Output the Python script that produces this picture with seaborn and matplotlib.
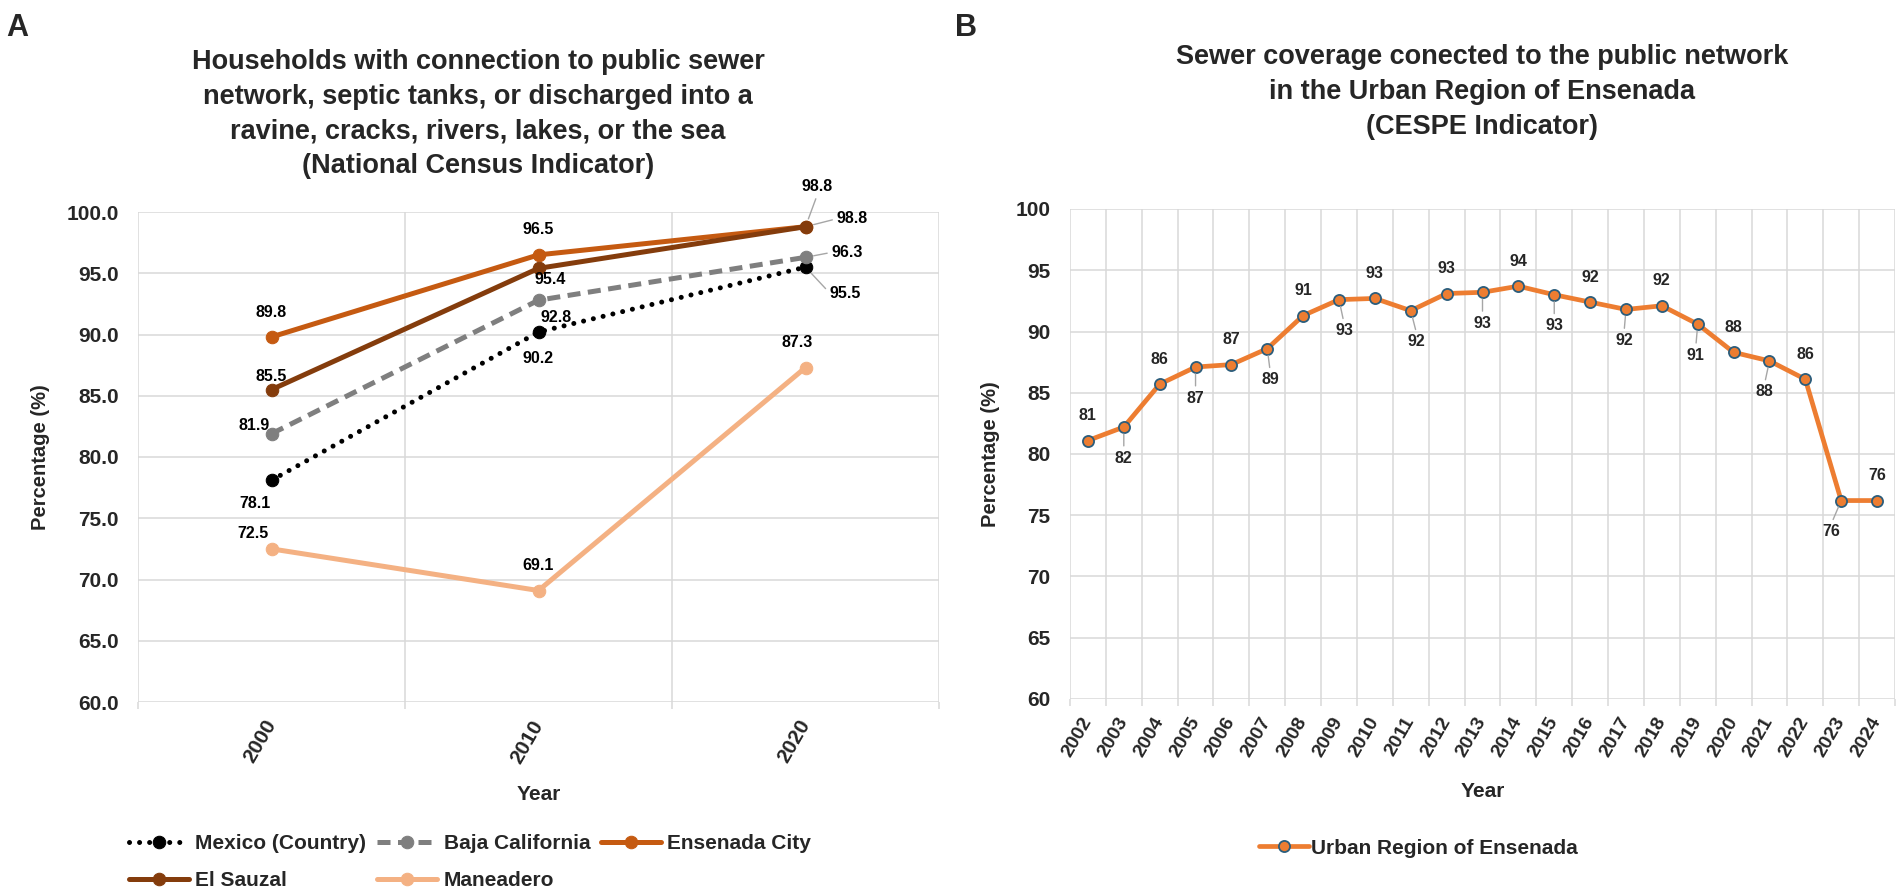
import matplotlib
matplotlib.use("Agg")
import matplotlib.pyplot as plt
import seaborn as sns

# ============================================
# Data
# ============================================
census_years = ["2000", "2010", "2020"]
mexico = [78.1, 90.2, 95.5]
baja_california = [81.9, 92.8, 96.3]
ensenada_city = [89.8, 96.5, 98.8]
el_sauzal = [85.5, 95.4, 98.8]
maneadero = [72.5, 69.1, 87.3]

cespe_years = ["2002", "2003", "2004", "2005", "2006", "2007", "2008", "2009",
               "2010", "2011", "2012", "2013", "2014", "2015", "2016", "2017",
               "2018", "2019", "2020", "2021", "2022", "2023", "2024"]
urban_region = [81.1, 82.2, 85.7, 87.1, 87.3, 88.6, 91.3, 92.6, 92.7, 91.7, 93.1, 93.2,
                93.7, 93.0, 92.4, 91.8, 92.1, 90.6, 88.3, 87.6, 86.1, 76.2, 76.2]

# ============================================
# Style
# ============================================
sns.set_theme(style="white")
plt.rcParams["font.family"] = ["Liberation Sans", "DejaVu Sans"]
plt.rcParams["font.weight"] = "bold"

GRID = "#d9d9d9"
LEADER = "#a6a6a6"

fig = plt.figure(figsize=(19.02, 8.94), dpi=100)
W, H = 1902, 894


def px_axes(x0, x1, y0, y1):
    return fig.add_axes([x0 / W, 1 - y1 / H, (x1 - x0) / W, (y1 - y0) / H])


def style_axes(ax, labels, tick_fs, rot):
    n = len(labels)
    ax.set_xlim(-0.5, n - 0.5)
    ax.set_ylim(60, 100)
    ax.set_yticks(range(60, 101, 5))
    ax.set_xticks(range(n))
    ax.set_xticks([i - 0.5 for i in range(n + 1)], minor=True)
    ax.set_xticklabels(labels, rotation=rot, ha="right", va="center",
                       rotation_mode="anchor", fontsize=tick_fs, fontweight="bold")
    ax.grid(False)
    ax.grid(True, which="minor", axis="x", color=GRID, lw=1.1)
    ax.grid(True, which="major", axis="y", color=GRID, lw=1.1)
    ax.tick_params(axis="x", which="major", length=0, pad=14)
    ax.tick_params(axis="x", which="minor", length=5, color=GRID, width=1.1, bottom=True)
    ax.tick_params(axis="y", length=0, pad=14, labelsize=15)
    for s in ax.spines.values():
        s.set_visible(False)
    ax.set_xlabel("Year", fontsize=15, fontweight="bold")
    ax.set_ylabel("Percentage (%)", fontsize=14.5, fontweight="bold")
    ax.xaxis.set_label_coords(0.5, -0.17)


# ============================================
# Panel A
# ============================================
ax1 = px_axes(138, 939, 212, 702)
xa = list(range(len(census_years)))

series_a = [
    ("Mexico (Country)", mexico, "black", (0, (0.01, 2.0))),
    ("Baja California", baja_california, "#7f7f7f", (0, (2.6, 1.5))),
    ("Ensenada City", ensenada_city, "#c55a11", "-"),
    ("El Sauzal", el_sauzal, "#843c0c", "-"),
    ("Maneadero", maneadero, "#f4b183", "-"),
]

# label offsets in pixels (dx, dy), and leader-line anchor on the label
offsets_a = {
    "Mexico (Country)": [(-16, -23, None), (0, -26, None), (40, -26, (0, 0.5))],
    "Baja California": [(-17, 8, None), (18, -17, None), (42, 5, (0, 0.5))],
    "Ensenada City": [(0, 24, None), (0, 25, None), (12, 40, (0.5, 0))],
    "El Sauzal": [(0, 13, None), (12, -11, None), (47, 8, (0, 0.5))],
    "Maneadero": [(-18, 15, None), (0, 25, None), (-8, 25, None)],
}

lines_a = {}
for name, values, color, ls in series_a:
    sns.lineplot(x=xa, y=values, ax=ax1, color=color, linestyle=ls, lw=3.6,
                 marker="o", markersize=9, markeredgecolor=color,
                 dash_capstyle="round" if name == "Mexico (Country)" else "butt")
    lines_a[name] = ax1.lines[-1]
    for i, v in enumerate(values):
        dx, dy, rel = offsets_a[name][i]
        kw = {}
        if rel is not None:
            kw["arrowprops"] = dict(arrowstyle="-", color=LEADER, lw=1,
                                    shrinkA=1, shrinkB=6, relpos=rel)
        ax1.annotate(f"{v:.1f}", (i, v), xytext=(dx, dy), textcoords="offset pixels",
                     ha="center", va="center", fontsize=11.5, fontweight="bold",
                     color="black", **kw)

style_axes(ax1, census_years, 15, 60)
ax1.set_yticks(range(60, 101, 5))
ax1.set_yticklabels([f"{t:.1f}" for t in range(60, 101, 5)])
ax1.yaxis.set_label_coords(-0.11, 0.5)

order = ["Mexico (Country)", "El Sauzal", "Baja California", "Maneadero", "Ensenada City"]
fig.legend([lines_a[k] for k in order], order, loc="center",
           bbox_to_anchor=(470 / W, 1 - 862 / H), ncol=3, frameon=False,
           prop=dict(size=15, weight="bold"), handlelength=2.9, handletextpad=0.3,
           columnspacing=0.5, labelspacing=0.88)

fig.text(478 / W, 1 - 114 / H,
         "Households with connection to public sewer\n"
         "network, septic tanks, or discharged into a\n"
         "ravine, cracks, rivers, lakes, or the sea\n"
         "(National Census Indicator)",
         ha="center", va="center", fontsize=19.5, fontweight="bold", linespacing=1.42)
fig.text(6 / W, 1 - 13 / H, "A", ha="left", va="top", fontsize=22, fontweight="bold")

# ============================================
# Panel B
# ============================================
ax2 = px_axes(1070, 1895, 209, 699)
xb = list(range(len(cespe_years)))

sns.lineplot(x=xb, y=urban_region, ax=ax2, color="#ed7d31", lw=3.4, marker="o",
             markersize=8, markerfacecolor="#ed7d31", markeredgecolor="#2b5d7c",
             markeredgewidth=1.3)
line_b = ax2.lines[-1]

below_dx = [0, 0, 3, 5, 6, 0, 0, -2, -2, -5, -10, -5]
k = 0
for i, v in enumerate(urban_region):
    if i % 2 == 0:
        ax2.annotate(f"{v:.0f}", (i, v), xytext=(0, 25), textcoords="offset pixels",
                     ha="center", va="center", fontsize=11.5, fontweight="bold")
    else:
        ax2.annotate(f"{v:.0f}", (i, v), xytext=(below_dx[k], -31),
                     textcoords="offset pixels", ha="center", va="center",
                     fontsize=11.5, fontweight="bold",
                     arrowprops=dict(arrowstyle="-", color=LEADER, lw=1,
                                     shrinkA=1, shrinkB=5, relpos=(0.5, 1)))
        k += 1

style_axes(ax2, cespe_years, 14, 60)
ax2.yaxis.set_label_coords(-0.085, 0.5)

fig.legend([line_b], ["Urban Region of Ensenada"], loc="center",
           bbox_to_anchor=(1418 / W, 1 - 848 / H), frameon=False,
           prop=dict(size=15, weight="bold"), handlelength=2.4, handletextpad=0.1)

fig.text(1482 / W, 1 - 92 / H,
         "Sewer coverage conected to the public network\n"
         "in the Urban Region of Ensenada\n"
         "(CESPE Indicator)",
         ha="center", va="center", fontsize=19.5, fontweight="bold", linespacing=1.45)
fig.text(955 / W, 1 - 13 / H, "B", ha="left", va="top", fontsize=22, fontweight="bold")

plt.savefig("out.png", dpi=100)
